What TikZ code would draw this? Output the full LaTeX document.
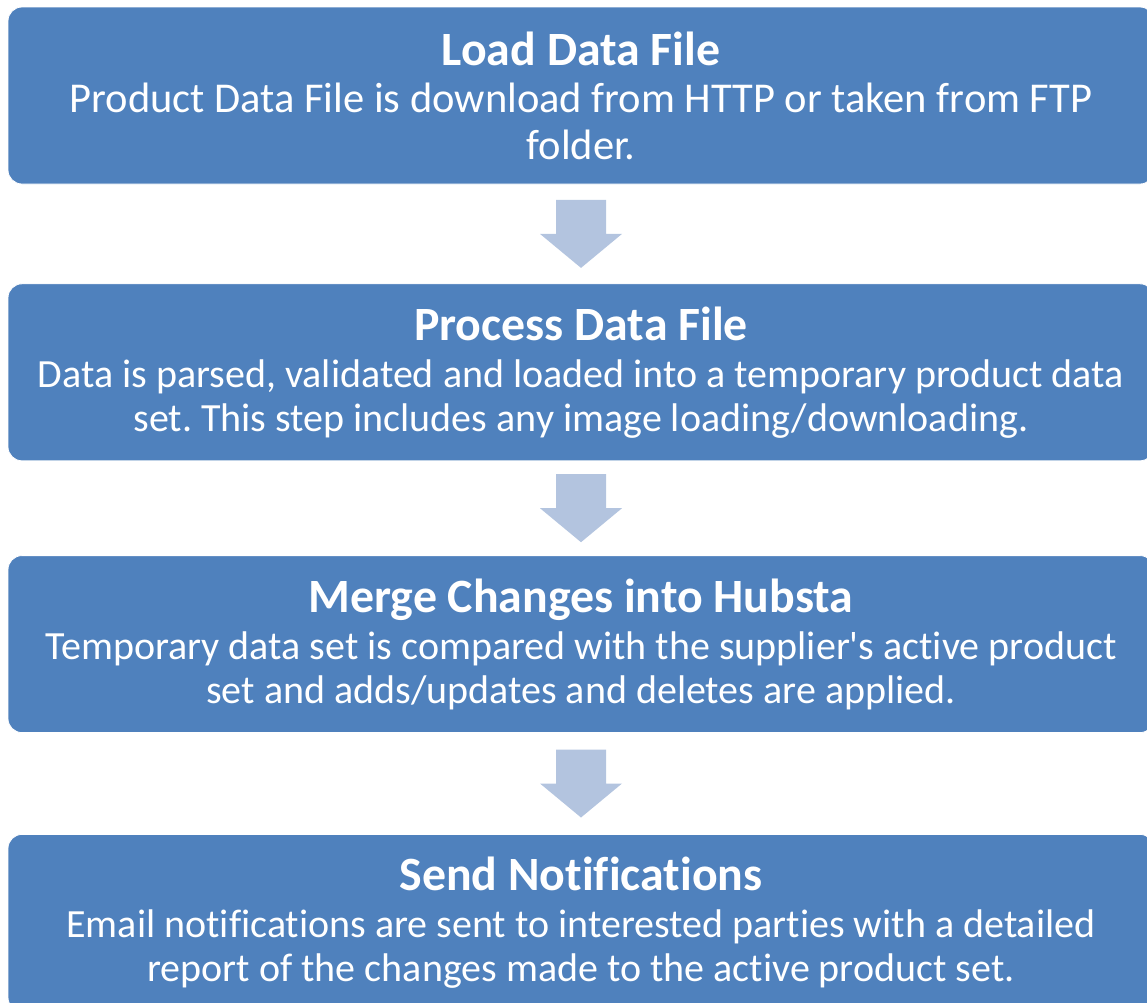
\documentclass[tikz,border=0pt]{standalone}
\usepackage{fontspec}
\setmainfont{Carlito}[Ligatures={NoCommon}]
\usetikzlibrary{positioning,calc}

\definecolor{stepblue}{RGB}{79,129,189}
\definecolor{arrowblue}{RGB}{179,196,223}

\newcommand{\steptitle}[1]{{\fontsize{47.8}{48}\selectfont\bfseries #1}}
\frenchspacing

\begin{document}
\begin{tikzpicture}[
        stepbox/.style={rectangle, rounded corners=14pt, fill=stepblue, draw=white, line width=0.8pt,
            text=white, align=center, minimum width=1146pt, minimum height=177pt, inner sep=0pt,
            font=\fontsize{40}{44}\selectfont},
        downarrow/.style={fill=arrowblue}
    ]
        \useasboundingbox (0,0) rectangle (1147pt,-1002pt);

        %-----Steps-----

        % Load Data File step
        \node [stepbox, font=\fontsize{42.5}{47}\selectfont] (load) at (581pt,-95.5pt) {%
            \steptitle{Load Data File} \\
            Product Data File is download from HTTP or taken from FTP \\
            folder.
        };

        % Process Data File step
        \node [stepbox, below=99pt of load] (process) {%
            \steptitle{Process Data File} \\[3pt]
            Data is parsed, validated and loaded into a temporary product data \\
            set. This step includes any image loading/downloading.
        };

        % Merge Changes step
        \node [stepbox, below=94pt of process] (merge) {%
            \steptitle{Merge Changes into Hubsta} \\[3pt]
            Temporary data set is compared with the supplier\textquotesingle s active product \\
            set and adds/updates and deletes are applied.
        };

        % Send Notifications step
        \node [stepbox, below=101pt of merge] (notify) {%
            \steptitle{Send Notifications} \\[3pt]
            Email notifications are sent to interested parties with a detailed \\
            report of the changes made to the active product set.
        };

        %-----Block arrows between steps-----

        % Load to Process
        \coordinate (gap1) at ($(load.south)!0.5!(process.north)$);
        \fill[downarrow] (gap1) ++(-25pt,34pt) -- ++(50pt,0) -- ++(0,-34pt) -- ++(16pt,0) -- ++(-41pt,-34pt) -- ++(-41pt,34pt) -- ++(16pt,0) -- cycle;

        % Process to Merge
        \coordinate (gap2) at ($(process.south)!0.5!(merge.north)$);
        \fill[downarrow] (gap2) ++(-25pt,34pt) -- ++(50pt,0) -- ++(0,-34pt) -- ++(16pt,0) -- ++(-41pt,-34pt) -- ++(-41pt,34pt) -- ++(16pt,0) -- cycle;

        % Merge to Notify
        \coordinate (gap3) at ($(merge.south)!0.5!(notify.north)$);
        \fill[downarrow] (gap3) ++(-25pt,34pt) -- ++(50pt,0) -- ++(0,-34pt) -- ++(16pt,0) -- ++(-41pt,-34pt) -- ++(-41pt,34pt) -- ++(16pt,0) -- cycle;

    \end{tikzpicture}
\end{document}
